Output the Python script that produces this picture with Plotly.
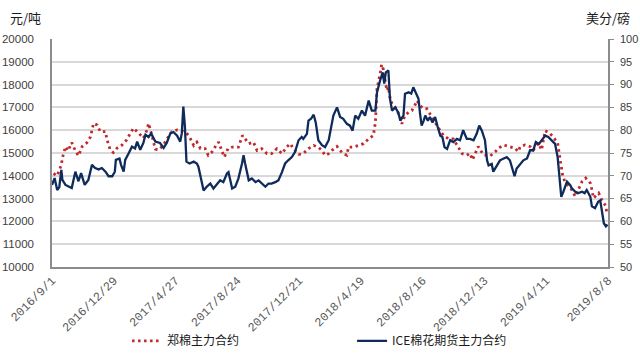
import plotly.graph_objects as go

# ---- ZCE cotton main contract (yuan/ton), left axis ----
zce_dates = [
    "2016-09-04", "2016-09-11", "2016-09-19", "2016-09-21", "2016-09-27", "2016-10-02", "2016-10-09",
    "2016-10-16", "2016-10-22", "2016-10-29", "2016-11-07", "2016-11-14", "2016-11-20", "2016-11-27",
    "2016-12-03", "2016-12-13", "2016-12-16", "2016-12-22", "2016-12-28", "2017-01-04", "2017-01-14",
    "2017-01-23", "2017-01-30", "2017-02-05", "2017-02-15", "2017-02-24", "2017-03-03", "2017-03-06",
    "2017-03-13", "2017-03-19", "2017-03-26", "2017-04-04", "2017-04-10", "2017-04-20", "2017-04-30",
    "2017-05-09", "2017-05-18", "2017-05-24", "2017-06-01", "2017-06-07", "2017-06-14", "2017-06-23",
    "2017-06-29", "2017-07-06", "2017-07-12", "2017-07-19", "2017-07-25", "2017-07-30", "2017-08-06",
    "2017-08-14", "2017-08-26", "2017-09-03", "2017-09-08", "2017-09-15", "2017-09-24", "2017-10-01",
    "2017-10-10", "2017-10-20", "2017-10-29", "2017-11-08", "2017-11-18", "2017-11-27", "2017-12-04",
    "2017-12-10", "2017-12-20", "2017-12-29", "2018-01-08", "2018-01-18", "2018-01-27", "2018-02-03",
    "2018-02-09", "2018-02-16", "2018-02-22", "2018-03-04", "2018-03-10", "2018-03-16", "2018-03-23",
    "2018-03-26", "2018-04-05", "2018-04-14", "2018-04-24", "2018-05-04", "2018-05-13", "2018-05-17",
    "2018-05-18", "2018-05-20", "2018-05-26", "2018-05-29", "2018-06-01", "2018-06-05", "2018-06-08",
    "2018-06-11", "2018-06-14", "2018-06-18", "2018-06-24", "2018-07-04", "2018-07-07", "2018-07-13",
    "2018-07-20", "2018-07-26", "2018-07-31", "2018-08-05", "2018-08-11", "2018-08-18", "2018-08-24",
    "2018-08-30", "2018-09-06", "2018-09-15", "2018-09-25", "2018-10-05", "2018-10-14", "2018-10-24",
    "2018-10-31", "2018-11-09", "2018-11-15", "2018-11-20", "2018-11-25", "2018-12-01", "2018-12-11",
    "2018-12-24", "2019-01-03", "2019-01-09", "2019-01-19", "2019-01-28", "2019-02-10", "2019-02-16",
    "2019-02-20", "2019-03-01", "2019-03-11", "2019-03-17", "2019-03-27", "2019-04-02", "2019-04-09",
    "2019-04-18", "2019-04-24", "2019-05-03", "2019-05-06", "2019-05-10", "2019-05-13", "2019-05-17",
    "2019-05-24", "2019-05-30", "2019-06-06", "2019-06-12", "2019-06-19", "2019-06-26", "2019-07-05",
    "2019-07-08", "2019-07-11", "2019-07-21", "2019-07-27", "2019-08-04", "2019-08-06",
]
zce_values = [
    14100, 14000, 14480, 14780, 15280, 15100, 15460,
    15100, 14880, 15280, 15450, 15700, 16300, 16230,
    15940, 15940, 15580, 15150, 15020, 15210, 15350,
    15580, 15870, 16090, 15870, 15650, 16010, 16300,
    15720, 15170, 15140, 15360, 15600, 15940, 16010,
    15970, 15880, 15700, 15330, 15480, 15190, 15190,
    14900, 15040, 15260, 15480, 15110, 14820, 15190,
    15260, 15260, 15770, 15620, 15410, 15480, 15110,
    15190, 14970, 14970, 15190, 14970, 15260, 15410,
    15190, 14940, 14970, 15190, 15330, 15260, 15110,
    14900, 14970, 15110, 15290, 15110, 14970, 14900,
    15260, 15260, 15330, 15410, 15620, 15770, 16350,
    17010, 17810, 18470, 18880, 18690, 18180, 17740,
    17890, 17450, 17160, 17010, 16570, 16280, 16650,
    16790, 16860, 17040, 17300, 17080, 16940, 16940,
    16720, 16430, 16110, 15770, 15620, 15620, 15260,
    14970, 14900, 14990, 14700, 14990, 15280, 14920,
    14870, 15060, 15210, 15350, 15280, 15210, 15060,
    15280, 15350, 15280, 15130, 15430, 15130, 15980,
    15860, 15720, 15430, 14990, 14410, 13970, 13750,
    13530, 13390, 13090, 13390, 13750, 13900, 13680,
    13390, 13020, 13240, 12950, 12660, 12290,
]

# ---- ICE cotton main contract (cents/lb), right axis ----
ice_dates = [
    "2016-09-01", "2016-09-06", "2016-09-11", "2016-09-15", "2016-09-19", "2016-09-21", "2016-09-27",
    "2016-10-03", "2016-10-09", "2016-10-16", "2016-10-22", "2016-10-27", "2016-11-03", "2016-11-10",
    "2016-11-17", "2016-11-23", "2016-11-30", "2016-12-06", "2016-12-13", "2016-12-19", "2016-12-26",
    "2016-12-31", "2017-01-02", "2017-01-09", "2017-01-12", "2017-01-17", "2017-01-20", "2017-01-27",
    "2017-02-02", "2017-02-08", "2017-02-12", "2017-02-18", "2017-02-24", "2017-02-28", "2017-03-06",
    "2017-03-11", "2017-03-19", "2017-03-28", "2017-04-04", "2017-04-10", "2017-04-17", "2017-04-23",
    "2017-04-30", "2017-05-06", "2017-05-09", "2017-05-12", "2017-05-15", "2017-05-18", "2017-05-24",
    "2017-06-01", "2017-06-07", "2017-06-10", "2017-06-14", "2017-06-20", "2017-06-26", "2017-07-03",
    "2017-07-09", "2017-07-16", "2017-07-22", "2017-07-28", "2017-08-04", "2017-08-07", "2017-08-14",
    "2017-08-20", "2017-08-26", "2017-09-02", "2017-09-05", "2017-09-08", "2017-09-15", "2017-09-21",
    "2017-09-28", "2017-10-04", "2017-10-10", "2017-10-17", "2017-10-23", "2017-10-29", "2017-11-05",
    "2017-11-11", "2017-11-18", "2017-11-24", "2017-11-30", "2017-12-07", "2017-12-13", "2017-12-20",
    "2017-12-26", "2017-12-29", "2018-01-05", "2018-01-08", "2018-01-13", "2018-01-18", "2018-01-22",
    "2018-01-27", "2018-02-03", "2018-02-09", "2018-02-16", "2018-02-21", "2018-02-25", "2018-03-04",
    "2018-03-07", "2018-03-10", "2018-03-16", "2018-03-23", "2018-03-29", "2018-04-03", "2018-04-08",
    "2018-04-14", "2018-04-21", "2018-04-27", "2018-05-04", "2018-05-10", "2018-05-17", "2018-05-20",
    "2018-05-26", "2018-05-31", "2018-06-03", "2018-06-06", "2018-06-11", "2018-06-14", "2018-06-18",
    "2018-06-24", "2018-06-30", "2018-07-04", "2018-07-10", "2018-07-13", "2018-07-20", "2018-07-25",
    "2018-07-29", "2018-08-03", "2018-08-08", "2018-08-11", "2018-08-14", "2018-08-18", "2018-08-21",
    "2018-08-26", "2018-08-30", "2018-09-04", "2018-09-09", "2018-09-14", "2018-09-19", "2018-09-23",
    "2018-09-27", "2018-10-02", "2018-10-08", "2018-10-14", "2018-10-21", "2018-10-27", "2018-11-02",
    "2018-11-09", "2018-11-15", "2018-11-22", "2018-11-28", "2018-12-03", "2018-12-08", "2018-12-14",
    "2018-12-18", "2018-12-21", "2018-12-27", "2018-12-30", "2019-01-06", "2019-01-12", "2019-01-19",
    "2019-01-25", "2019-01-31", "2019-02-04", "2019-02-09", "2019-02-13", "2019-02-20", "2019-02-26",
    "2019-03-05", "2019-03-11", "2019-03-17", "2019-03-22", "2019-03-28", "2019-04-02", "2019-04-09",
    "2019-04-15", "2019-04-22", "2019-04-28", "2019-05-03", "2019-05-06", "2019-05-10", "2019-05-14",
    "2019-05-21", "2019-05-27", "2019-05-30", "2019-06-06", "2019-06-12", "2019-06-19", "2019-06-24",
    "2019-06-28", "2019-07-05", "2019-07-08", "2019-07-14", "2019-07-20", "2019-07-24", "2019-07-27",
    "2019-07-31", "2019-08-04", "2019-08-07",
]
ice_values = [
    68.0, 69.5, 66.9, 67.5, 71.3, 69.1, 68.0,
    67.7, 67.3, 70.9, 68.8, 70.6, 68.0, 69.1,
    72.4, 71.7, 71.4, 71.7, 70.9, 69.9, 69.9,
    70.9, 73.5, 73.8, 72.4, 70.9, 73.5, 75.0,
    76.4, 76.0, 77.5, 75.7, 77.2, 79.0, 78.5,
    79.3, 77.5, 77.2, 76.1, 77.2, 79.3, 79.6,
    78.8, 77.5, 79.3, 85.2, 80.8, 73.1, 72.7,
    73.1, 72.7, 72.0, 69.7, 66.8, 67.6, 68.3,
    67.2, 68.3, 69.0, 68.6, 70.5, 70.8, 67.2,
    67.6, 69.4, 72.7, 74.5, 72.7, 69.0, 69.4,
    68.6, 69.0, 68.3, 67.6, 68.3, 68.3, 68.6,
    69.0, 70.8, 72.7, 73.4, 74.1, 75.2, 77.8,
    78.5, 78.1, 79.2, 82.1, 82.5, 83.4, 81.7,
    77.8, 76.7, 76.3, 77.8, 80.7, 83.2, 85.0,
    83.9, 82.9, 82.5, 81.4, 81.0, 79.9, 83.2,
    82.5, 84.3, 83.2, 86.5, 84.3, 84.3, 88.3,
    90.9, 92.7, 90.2, 92.7, 93.1, 86.9, 84.3,
    85.0, 83.9, 82.1, 83.2, 88.0, 88.3, 88.0,
    89.4, 88.3, 86.9, 83.6, 81.0, 82.1, 83.2,
    82.1, 82.9, 81.7, 82.9, 80.7, 78.8, 78.5,
    76.3, 75.9, 77.8, 77.4, 78.1, 77.8, 80.0,
    78.1, 78.1, 77.8, 79.2, 81.0, 79.9, 77.8,
    73.4, 72.3, 72.6, 70.9, 72.3, 73.4, 73.8,
    74.1, 73.4, 72.0, 69.9, 71.6, 72.6, 73.4,
    73.8, 75.6, 75.6, 77.4, 77.0, 77.8, 78.8,
    78.5, 77.8, 77.0, 74.1, 69.8, 65.4, 66.5,
    68.7, 68.0, 67.3, 66.5, 66.2, 66.5, 66.2,
    66.9, 65.4, 63.3, 62.9, 64.3, 64.6, 62.5,
    59.6, 58.9, 59.3,
]

# ---- axis ticks ----
x_tick_dates = ["2016-09-01", "2016-12-29", "2017-04-27", "2017-08-24", "2017-12-21",
                "2018-04-19", "2018-08-16", "2018-12-13", "2019-04-11", "2019-08-08"]
x_tick_labels = ["2016/9/1", "2016/12/29", "2017/4/27", "2017/8/24", "2017/12/21",
                 "2018/4/19", "2018/8/16", "2018/12/13", "2019/4/11", "2019/8/8"]
left_ticks = list(range(10000, 20001, 1000))
right_ticks = list(range(50, 101, 5))

series_names = ["郑棉主力合约", "ICE棉花期货主力合约"]

RED = "#c0282d"
NAVY = "#0f2b5b"
AX = "#8c8c8c"
GRID = "#d9d9d9"
TXT = "#404040"

fig = go.Figure()
fig.add_trace(go.Scatter(
    x=zce_dates, y=zce_values, name=series_names[0], mode="lines",
    line=dict(color=RED, width=2.8, dash="2.5px,3.5px"), yaxis="y"))
fig.add_trace(go.Scatter(
    x=ice_dates, y=ice_values, name=series_names[1], mode="lines",
    line=dict(color=NAVY, width=2.3), yaxis="y2"))

fig.update_layout(
    width=640, height=354,
    margin=dict(l=52, r=32, t=39, b=87, autoexpand=False),
    paper_bgcolor="white", plot_bgcolor="white",
    font=dict(family="Liberation Sans, Noto Sans CJK SC", size=12, color=TXT),
    xaxis=dict(
        type="date", range=["2016-09-01", "2019-08-08"],
        tickvals=x_tick_dates, ticktext=x_tick_labels, tickangle=-45,
        tickfont=dict(family="Liberation Mono", size=12, color="#595959"),
        showgrid=False, showline=True, linecolor=AX, linewidth=1.5,
        ticks="", zeroline=False,
    ),
    yaxis=dict(
        range=[10000, 20000], tickvals=left_ticks, tickformat="d",
        showgrid=True, gridcolor=GRID, gridwidth=1.5,
        showline=True, linecolor=AX, linewidth=1.5,
        ticks="", ticklabelstandoff=14, zeroline=False,
        tickfont=dict(family="Liberation Sans", size=11.5, color=TXT),
    ),
    yaxis2=dict(
        range=[50, 100], tickvals=right_ticks, overlaying="y", side="right",
        showgrid=False, showline=True, linecolor=AX, linewidth=1.5,
        ticks="outside", ticklen=4, tickcolor=AX, ticklabelstandoff=4,
        zeroline=False,
        tickfont=dict(family="Liberation Sans", size=11, color=TXT),
    ),
    legend=dict(
        orientation="h", x=0.135, xanchor="left", y=-0.26, yanchor="top",
        entrywidth=180, entrywidthmode="pixels",
        font=dict(family="Noto Sans CJK SC", size=12, color="#1a1a1a"),
        bgcolor="rgba(0,0,0,0)",
    ),
    showlegend=True,
    annotations=[
        dict(text="元/吨", xref="paper", yref="paper", x=-0.08, y=1.095,
             xanchor="left", yanchor="middle", showarrow=False,
             font=dict(family="Noto Sans CJK SC", size=13, color="#1a1a1a")),
        dict(text="美分/磅", xref="paper", yref="paper", x=1.043, y=1.095,
             xanchor="right", yanchor="middle", showarrow=False,
             font=dict(family="Noto Sans CJK SC", size=13, color="#1a1a1a")),
    ],
)

fig.write_html("out.html")
